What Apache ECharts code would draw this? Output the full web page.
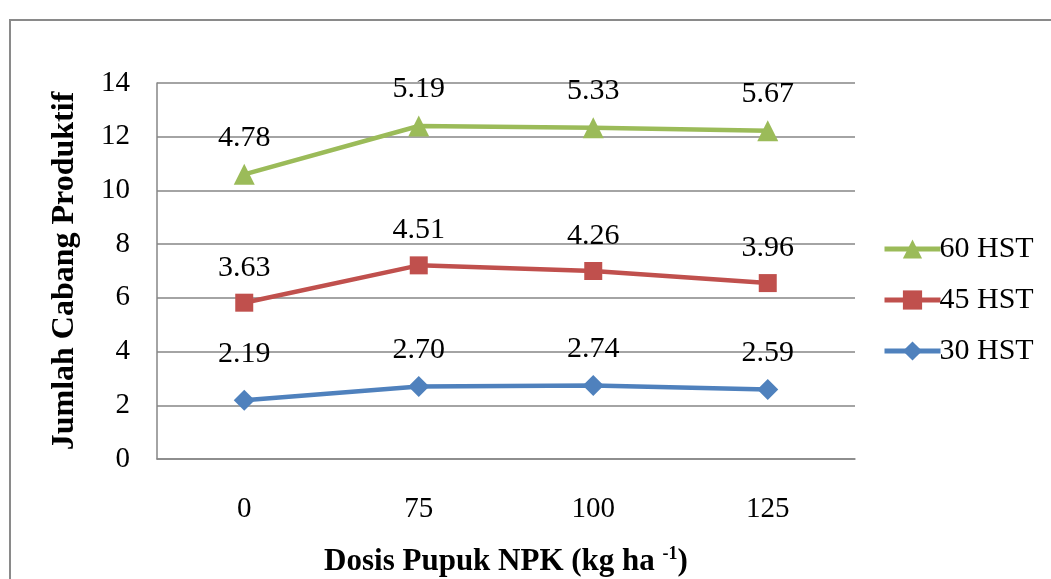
<!DOCTYPE html>
<html>
<head>
<meta charset="utf-8">
<script src="https://cdn.jsdelivr.net/npm/echarts@6/dist/echarts.min.js"></script>
<style>html,body{margin:0;padding:0;background:#fff}#c{width:1051px;height:579px}</style>
</head>
<body>
<div id="c"></div>
<script>
const categories = ['0', '75', '100', '125'];
const hst30 = [2.19, 2.70, 2.74, 2.59];
const hst45 = [3.63, 4.51, 4.26, 3.96];
const hst60 = [4.78, 5.19, 5.33, 5.67];
const seriesNames = ['30 HST', '45 HST', '60 HST'];
const yTicks = [0, 2, 4, 6, 8, 10, 12, 14];

const FONT = '"Liberation Serif", "Times New Roman", serif';
const chart = echarts.init(document.getElementById('c'), null, {renderer: 'canvas'});

function mkSeries(name, data, color, symbol, size, firstOffset) {
  return {
    name: name,
    type: 'line',
    stack: 'total',
    data: data.map((v, i) => (i === 0 && firstOffset) ? {value: v, label: {offset: [0, firstOffset]}} : v),
    symbol: symbol,
    symbolSize: size,
    lineStyle: {color: color, width: 4.5},
    itemStyle: {color: color},
    label: {
      show: true, position: 'top', distance: 11,
      formatter: p => Number(p.value).toFixed(2),
      fontFamily: FONT, fontSize: 30, color: '#000'
    },
    emphasis: {disabled: true},
    animation: false
  };
}

chart.setOption({
  backgroundColor: '#fff',
  animation: false,
  graphic: [{
    type: 'rect',
    shape: {x: 10, y: 20, width: 1060, height: 600},
    style: {fill: 'none', stroke: '#8a8a8a', lineWidth: 2},
    silent: true
  }],
  grid: {left: 157, right: 196, top: 83, bottom: 120, containLabel: false, outerBoundsMode: 'none'},
  legend: {
    orient: 'vertical',
    left: 877, top: 229,
    itemWidth: 56, itemHeight: 24, itemGap: 21,
    data: ['60 HST', '45 HST', '30 HST'],
    lineStyle: {width: 5},
    textStyle: {fontFamily: FONT, fontSize: 30, color: '#000', padding: [0, 0, 0, -6]}
  },
  xAxis: {
    type: 'category',
    data: categories,
    boundaryGap: true,
    axisLine: {lineStyle: {color: '#868686', width: 1.5}},
    axisTick: {show: false},
    axisLabel: {fontFamily: FONT, fontSize: 29, color: '#000', margin: 36},
    name: '{a|Dosis Pupuk NPK (kg ha }{s|-1}{a|)}',
    nameLocation: 'middle',
    nameGap: 86,
    nameTextStyle: {
      rich: {
        a: {fontFamily: FONT, fontSize: 31, fontWeight: 'bold', color: '#000'},
        s: {fontFamily: FONT, fontSize: 18, fontWeight: 'bold', color: '#000', padding: [0, 0, 16, 0]}
      }
    }
  },
  yAxis: {
    type: 'value',
    min: 0, max: 14, interval: 2,
    axisLine: {show: true, lineStyle: {color: '#868686', width: 1.5}},
    axisTick: {show: false},
    splitLine: {lineStyle: {color: '#868686', width: 1.5}},
    axisLabel: {fontFamily: FONT, fontSize: 29, color: '#000', margin: 27,
      formatter: v => yTicks.includes(v) ? String(v) : ''},
    name: 'Jumlah Cabang Produktif',
    nameLocation: 'middle',
    nameGap: 76,
    nameTextStyle: {fontFamily: FONT, fontSize: 32, fontWeight: 'bold', color: '#000'}
  },
  series: [
    mkSeries(seriesNames[0], hst30, '#4F81BD', 'diamond', 21, -10),
    mkSeries(seriesNames[1], hst45, '#C0504D', 'rect', 18, 0),
    mkSeries(seriesNames[2], hst60, '#9BBB59', 'triangle', 21, 0)
  ]
});
</script>
</body>
</html>
